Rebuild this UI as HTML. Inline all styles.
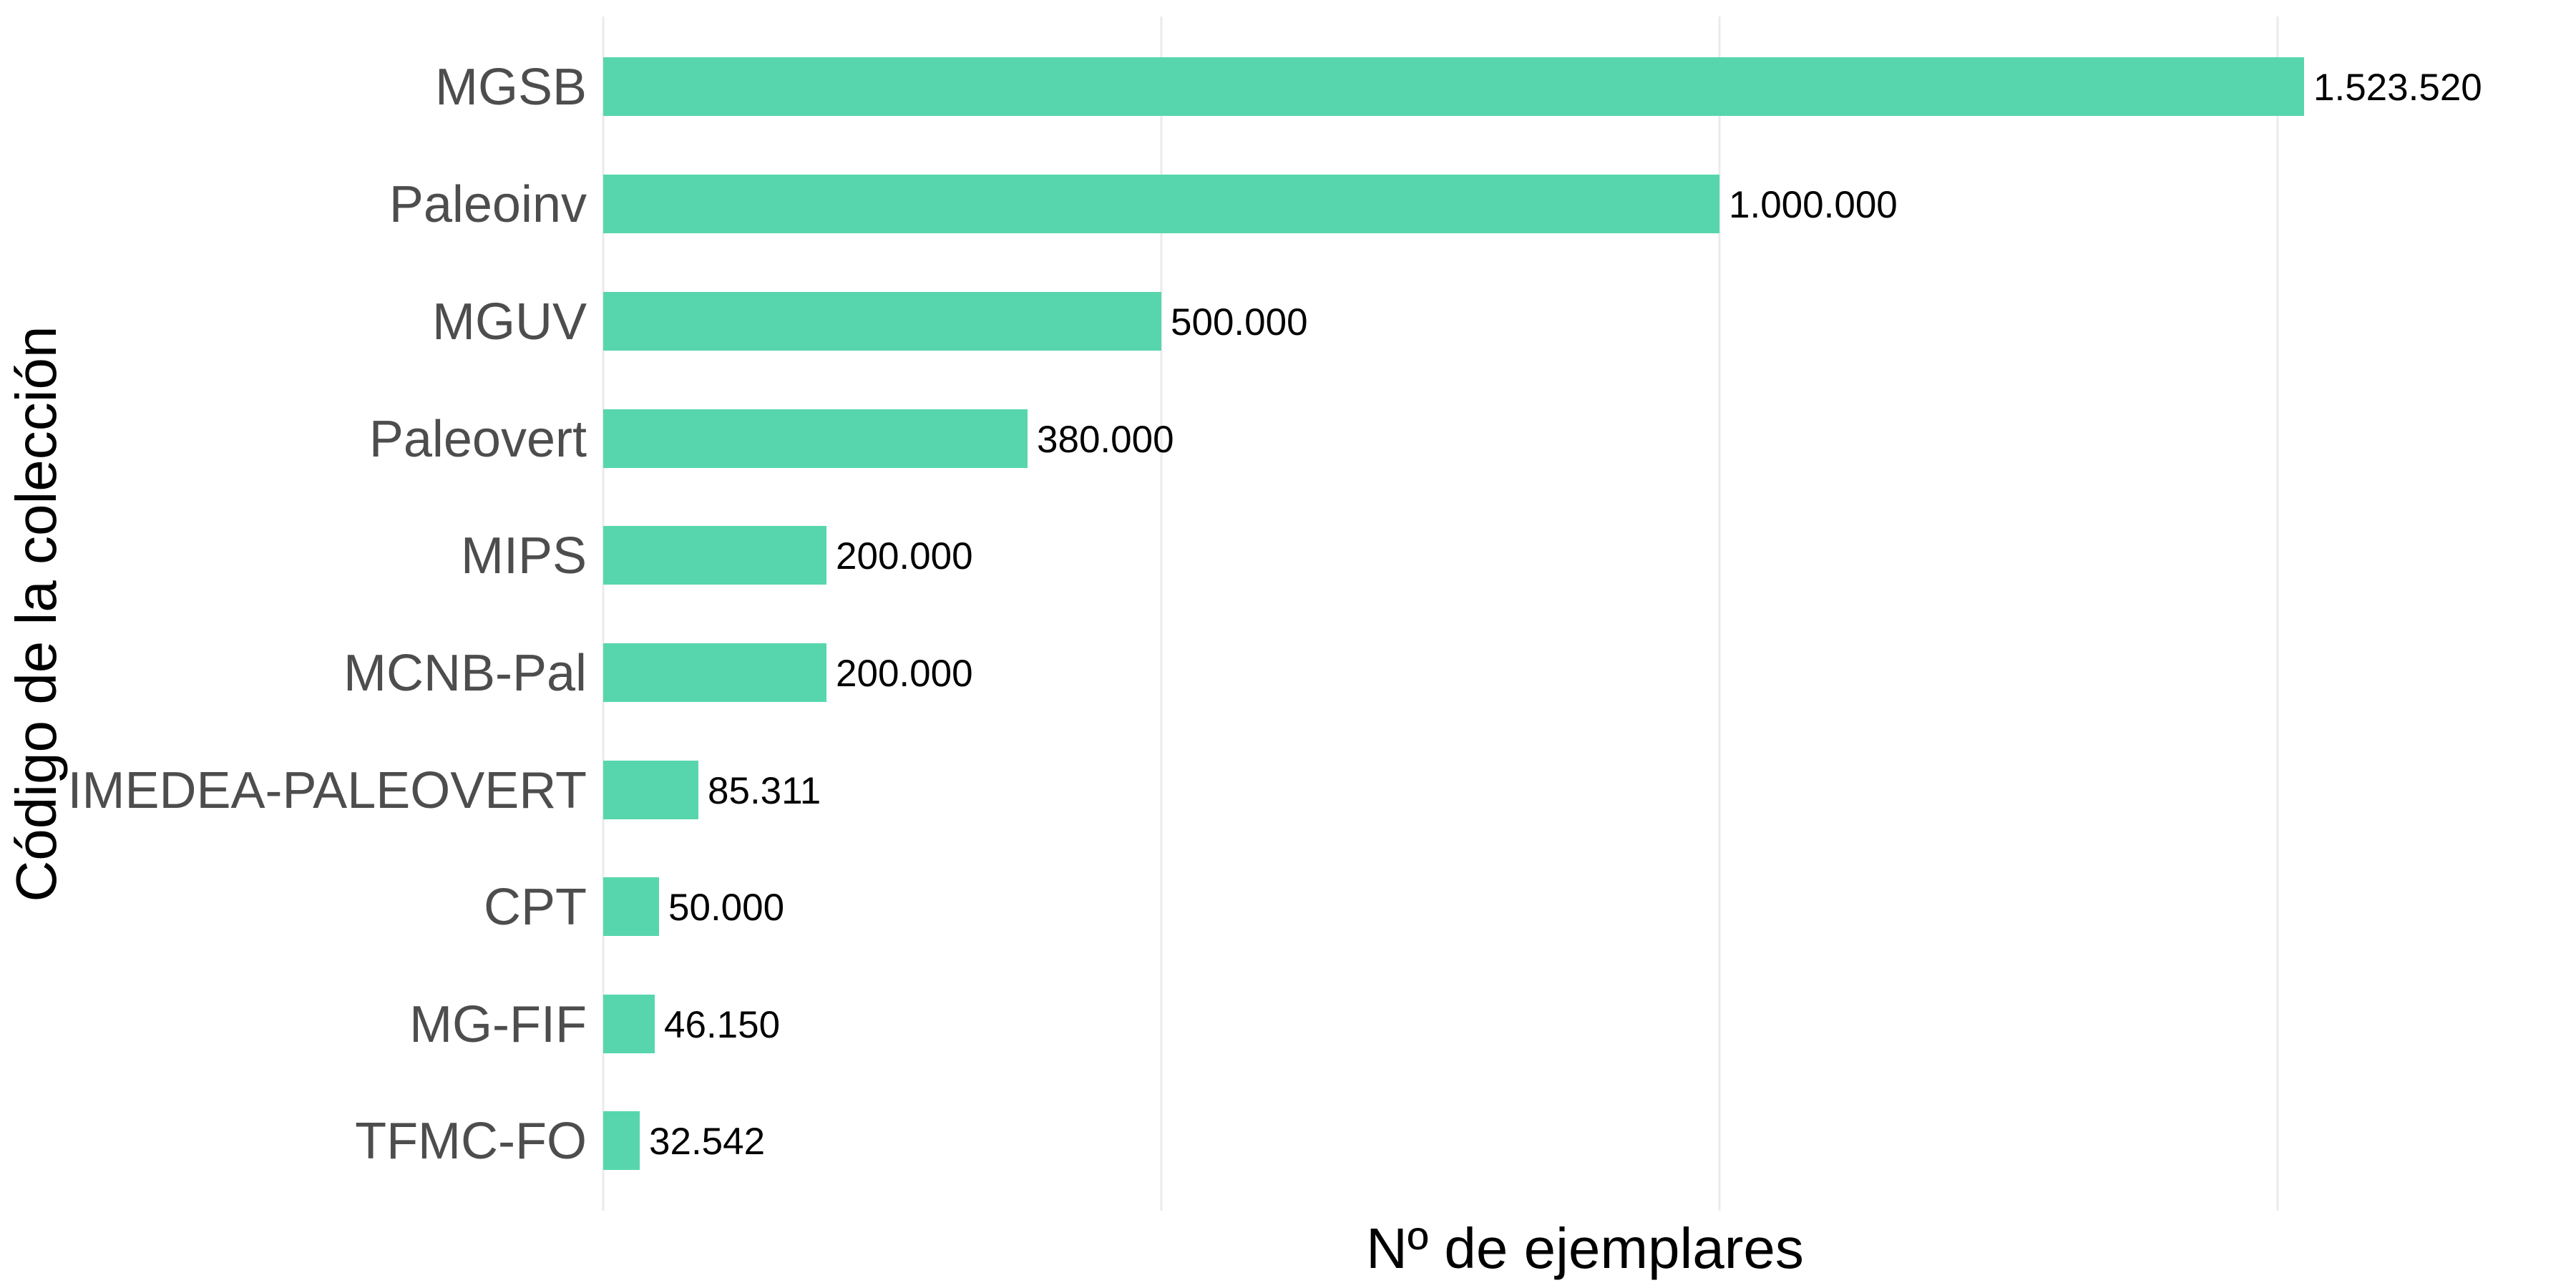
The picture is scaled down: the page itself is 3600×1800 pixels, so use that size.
<!DOCTYPE html>
<html><head><meta charset="utf-8"><style>
html,body{margin:0;padding:0;background:#fff;}
svg{display:block;}
</style></head><body>
<svg width="3600" height="1800" viewBox="0 0 3600 1800" xmlns="http://www.w3.org/2000/svg" font-family="Liberation Sans, Arial, sans-serif">
<g stroke="#ebebeb" stroke-width="3">
<line x1="843" y1="23" x2="843" y2="1692"/>
<line x1="1623" y1="23" x2="1623" y2="1692"/>
<line x1="2403" y1="23" x2="2403" y2="1692"/>
<line x1="3183" y1="23" x2="3183" y2="1692"/>
</g>
<g fill="#57d6ad">
<rect x="843" y="80" width="2377" height="82"/>
<rect x="843" y="244" width="1560" height="82"/>
<rect x="843" y="408" width="780" height="82"/>
<rect x="843" y="572" width="593" height="82"/>
<rect x="843" y="735" width="312" height="82"/>
<rect x="843" y="899" width="312" height="82"/>
<rect x="843" y="1063" width="133" height="82"/>
<rect x="843" y="1226" width="78" height="82"/>
<rect x="843" y="1390" width="72" height="82"/>
<rect x="843" y="1553" width="51" height="82"/>
</g>
<g fill="#4d4d4d" font-size="72" text-anchor="end">
<text x="820" y="146">MGSB</text>
<text x="820" y="310">Paleoinv</text>
<text x="820" y="474">MGUV</text>
<text x="820" y="638">Paleovert</text>
<text x="820" y="801">MIPS</text>
<text x="820" y="965">MCNB-Pal</text>
<text x="820" y="1129">IMEDEA-PALEOVERT</text>
<text x="820" y="1292">CPT</text>
<text x="820" y="1456">MG-FIF</text>
<text x="820" y="1619">TFMC-FO</text>
</g>
<g fill="#000" font-size="53">
<text x="3233" y="140">1.523.520</text>
<text x="2416" y="304">1.000.000</text>
<text x="1636" y="468">500.000</text>
<text x="1449" y="632">380.000</text>
<text x="1168" y="795">200.000</text>
<text x="1168" y="959">200.000</text>
<text x="989" y="1123">85.311</text>
<text x="934" y="1286">50.000</text>
<text x="928" y="1450">46.150</text>
<text x="907" y="1613">32.542</text>
</g>
<text x="2215" y="1772" font-size="80" text-anchor="middle" fill="#000">Nº de ejemplares</text>
<text transform="translate(78,858) rotate(-90)" font-size="80" text-anchor="middle" fill="#000">Código de la colección</text>
</svg>
</body></html>
